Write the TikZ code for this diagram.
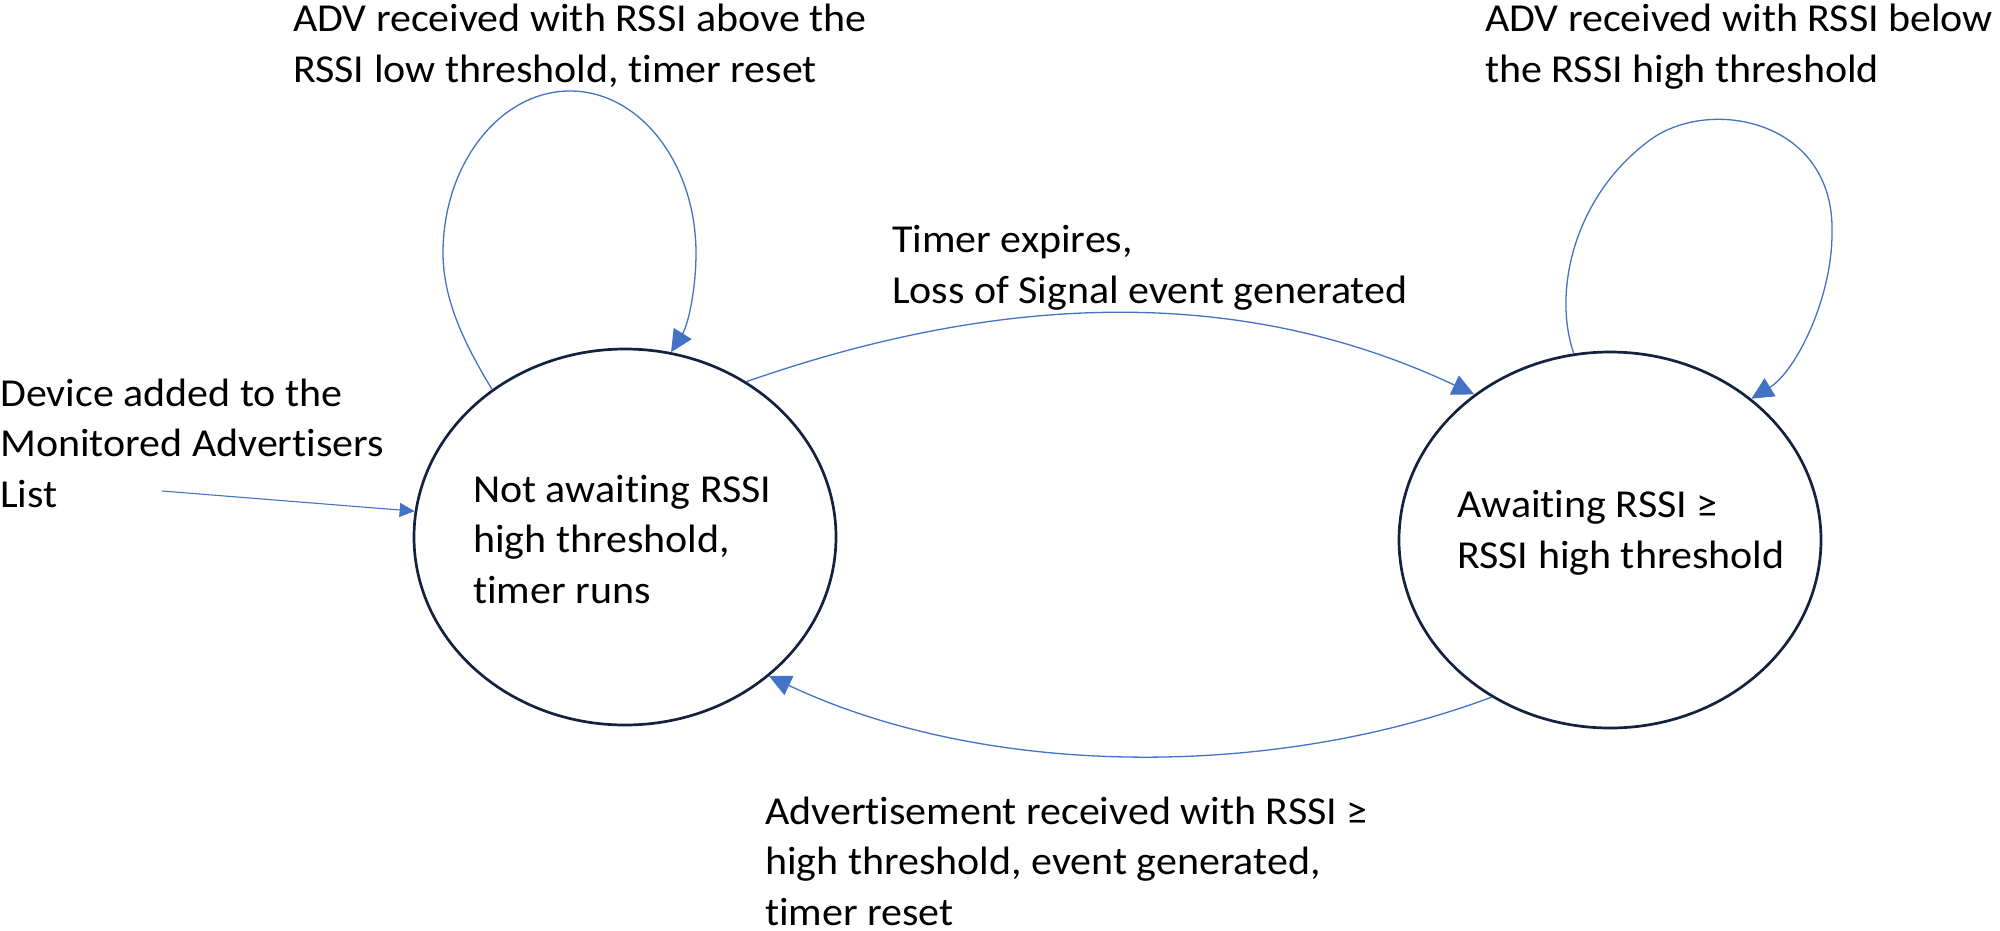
\documentclass[tikz,border=0pt]{standalone}
\usepackage{fontspec}
\setmainfont{Carlito}[FakeStretch=1.06,Ligatures=NoCommon]
\usetikzlibrary{arrows.meta,shapes.geometric}
\definecolor{edgeblue}{HTML}{4472C4}
\definecolor{statenavy}{HTML}{14223F}
\begin{document}
\begin{tikzpicture}[x=1pt,y=-1pt,
  state/.style={ellipse, draw=statenavy, line width=2.7pt, minimum width=422pt, minimum height=376pt, inner sep=0pt},
  lbl/.style={anchor=base west, inner sep=0pt, align=left, font=\fontsize{39.6}{50.5}\selectfont},
  conn/.style={draw=edgeblue, line width=1.3pt, -{Triangle[length=22pt,width=21pt,fill=edgeblue]}},
  smalltip/.style={-{Triangle[length=15pt,width=14pt,fill=edgeblue]}, line width=1.1pt}
]
\useasboundingbox (0,0) rectangle (2000,930);
\node[state] (L) at (625,537) {};
\node[state] (R) at (1610,540) {};
% anchors are at the baseline of the last line
\node[lbl] (tL) at (473,603) {Not awaiting RSSI\\high threshold,\\timer runs};
\node[lbl] (tR) at (1457,568) {Awaiting RSSI ≥\\RSSI high threshold};
\node[lbl] (lA) at (293,82) {ADV received with RSSI above the\\RSSI low threshold, timer reset};
\node[lbl] (lB) at (1485,82) {ADV received with RSSI below\\the RSSI high threshold};
\node[lbl] (lC) at (892,303) {Timer expires,\\Loss of Signal event generated};
\node[lbl] (lD) at (765,925) {Advertisement received with RSSI ≥\\high threshold, event generated,\\timer reset};
\node[lbl] (lE) at (0,507) {Device added to the\\Monitored Advertisers\\List};
\coordinate (src) at (162,491);
\draw[conn, smalltip] (src) -- (L.173);
\draw[conn] (L.132) .. controls (465,345) and (443,300) .. (443,253)
  .. controls (443,164) and (500,91) .. (570,91)
  .. controls (640,91) and (696,164) .. (696,253)
  .. controls (696,290) and (688,325) .. (L.76);
\draw[conn] (L.52) .. controls (1000,293) and (1240,284) .. (R.133);
\draw[conn] (R.-127) .. controls (1270,780) and (985,778) .. (L.-44);
\draw[conn] (R.101) .. controls (1552,290) and (1575,195) .. (1650,140)
  .. controls (1710,96) and (1835,120) .. (1832,233)
  .. controls (1832,300) and (1795,372) .. (R.45);
\end{tikzpicture}
\end{document}
